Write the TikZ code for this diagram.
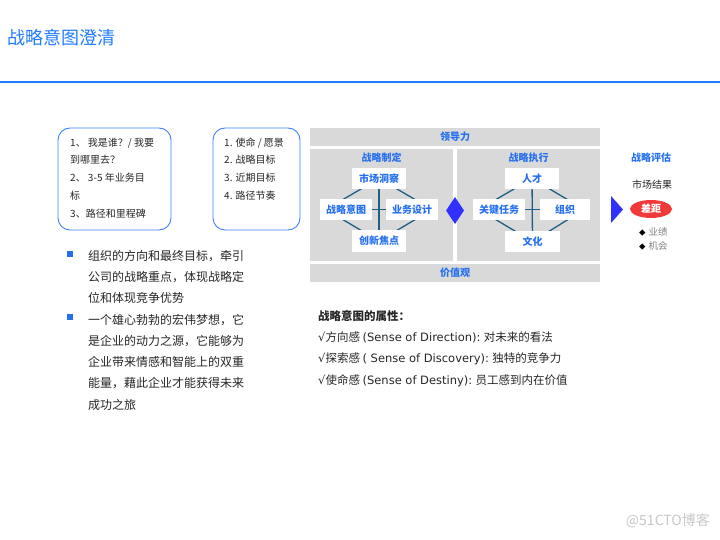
\documentclass[tikz,border=0pt]{standalone}
\usepackage{fontspec}
\setmainfont{Noto Sans CJK SC}
\newfontfamily\latinfont{DejaVu Sans}
\usetikzlibrary{positioning, shapes.geometric}
\pgfdeclarelayer{background}
\pgfsetlayers{background,main}
\definecolor{headblue}{HTML}{1F7BFF}
\definecolor{labelblue}{HTML}{2670F0}
\definecolor{noteblue}{HTML}{3D80FF}
\definecolor{panelgrey}{HTML}{D9D9D9}
\definecolor{linkteal}{HTML}{1F5F85}
\definecolor{markblue}{HTML}{3030FF}
\definecolor{gapred}{HTML}{F03A3A}
\definecolor{bodygrey}{HTML}{262626}

\begin{document}
\begin{tikzpicture}[
    x=1pt, y=-1pt,
    note box/.style={draw=noteblue, line width=0.9pt, rounded corners=12pt},
    panel/.style={fill=panelgrey, inner sep=0pt},
    band label/.style={font=\fontsize{10}{12}\selectfont\bfseries, text=labelblue},
    step box/.style={fill=white, minimum height=21pt, inner sep=0pt, font=\fontsize{10}{12}\selectfont\bfseries, text=labelblue},
    link line/.style={draw=linkteal, line width=1.3pt},
    body text/.style={anchor=north west, align=left, inner sep=0pt, text=bodygrey}
]
    \useasboundingbox (0,0) rectangle (720,540);

    % Title
    \node[anchor=west, inner sep=0pt, text=headblue, font=\fontsize{18}{20}\selectfont] (title) at (7,38) {战略意图澄清};
    \draw[headblue, line width=2.4pt] (0,82) -- (720,82);

    % Question boxes
    \node[note box, minimum width=113pt, minimum height=102pt] (who) at (114.5,179) {};
    \node[body text, font=\fontsize{10}{17.8}\selectfont] (whotext) at (70,137.5)
        {1、 我是谁？/ 我要\\到哪里去？\\2、 3-5 年业务目\\标\\3、路径和里程碑};
    \node[note box, minimum width=87pt, minimum height=102pt] (mission) at (256.5,179) {};
    \node[body text, font=\fontsize{10}{17.7}\selectfont] (missiontext) at (224,137.5)
        {1. 使命 / 愿景\\2. 战略目标\\3. 近期目标\\4. 路径节奏};

    % Panels
    \begin{pgfonlayer}{background}
        \node[panel, band label, minimum width=290pt, minimum height=18pt] (lead) at (455,137) {领导力};
        \node[panel, minimum width=143pt, minimum height=112pt] (formulate) at (381.5,205) {};
        \node[panel, minimum width=143pt, minimum height=112pt] (execute) at (528.5,205) {};
        \node[panel, band label, minimum width=290pt, minimum height=18pt] (values) at (455,273) {价值观};
    \end{pgfonlayer}
    \node[band label] (formtitle) at (381.5,158) {战略制定};
    \node[band label] (exectitle) at (528.5,158) {战略执行};

    % Strategy formulation
    \node[step box, minimum width=54pt] (market) at (379,178.5) {市场洞察};
    \node[step box, minimum width=52pt] (intent) at (346,209.5) {战略意图};
    \node[step box, minimum width=52pt] (design) at (412,209.5) {业务设计};
    \node[step box, minimum width=54pt] (innov) at (379,241) {创新焦点};

    % Strategy execution
    \node[step box, minimum width=54pt] (talent) at (532,178.5) {人才};
    \node[step box, minimum width=52pt] (task) at (499,209.5) {关键任务};
    \node[step box, minimum width=50pt] (org) at (565,209.5) {组织};
    \node[step box, minimum width=55pt] (culture) at (532.5,241.5) {文化};

    % Edges
    \draw[link line] (market) -- (innov);
    \draw[link line] (intent) -- (design);
    \draw[link line] (talent) -- (culture);
    \draw[link line] (task) -- (org);
    \begin{pgfonlayer}{background}
        \draw[link line] (market.center) -- ([xshift=6pt]intent.west) -- (innov.center)
            -- ([xshift=-6pt]design.east) -- cycle;
        \draw[link line] (talent.center) -- ([xshift=6pt]task.west) -- (culture.center)
            -- ([xshift=-6pt]org.east) -- cycle;
    \end{pgfonlayer}
    \node[diamond, fill=markblue, inner sep=0pt, minimum width=18pt, minimum height=27pt] (join) at (455,210.5) {};
    \fill[markblue] (611,196) -- (623,209.5) -- (611,223) -- cycle;

    % Evaluation
    \node[band label] (evaltitle) at (651,158) {战略评估};
    \node[text=bodygrey, font=\fontsize{10}{12}\selectfont] (result) at (652,185) {市场结果};
    \node[ellipse, fill=gapred, inner sep=0pt, minimum width=42pt, minimum height=18pt,
        text=white, font=\fontsize{10}{12}\selectfont\bfseries] (gap) at (651,209) {差距};
    \node[anchor=west, inner sep=0pt, text=gray, font=\fontsize{9.5}{11}\selectfont] (perf) at (639,232)
        {\textcolor{black}{\fontsize{6.5}{8}\selectfont◆}\hspace{3pt}业绩};
    \node[anchor=west, inner sep=0pt, text=gray, font=\fontsize{9.5}{11}\selectfont] (chance) at (639,246)
        {\textcolor{black}{\fontsize{6.5}{8}\selectfont◆}\hspace{3pt}机会};

    % Bullets
    \node[fill=labelblue, inner sep=0pt, minimum size=6.5pt] (sq1) at (70,254) {};
    \node[body text, font=\fontsize{12}{21.2}\selectfont] (aim1) at (88,250)
        {组织的方向和最终目标，牵引\\公司的战略重点，体现战略定\\位和体现竞争优势};
    \node[fill=labelblue, inner sep=0pt, minimum size=6.5pt] (sq2) at (70,317) {};
    \node[body text, font=\fontsize{12}{21.2}\selectfont] (aim2) at (88,314)
        {一个雄心勃勃的宏伟梦想，它\\是企业的动力之源，它能够为\\企业带来情感和智能上的双重\\能量，藉此企业才能获得未来\\成功之旅};

    % Attributes
    \node[body text, font=\fontsize{11.5}{21.3}\selectfont] (attrs) at (318,310)
        {\textbf{战略意图的属性：}\\
         {\latinfont √}方向感 {\latinfont (Sense of Direction):} 对未来的看法\\
         {\latinfont √}探索感 {\latinfont ( Sense of Discovery):} 独特的竞争力\\
         {\latinfont √}使命感 {\latinfont (Sense of Destiny):} 员工感到内在价值};

    \node[anchor=east, inner sep=0pt, text=black!22, font=\fontsize{14}{16}\selectfont] (mark) at (710,521) {@51CTO博客};
\end{tikzpicture}
\end{document}
